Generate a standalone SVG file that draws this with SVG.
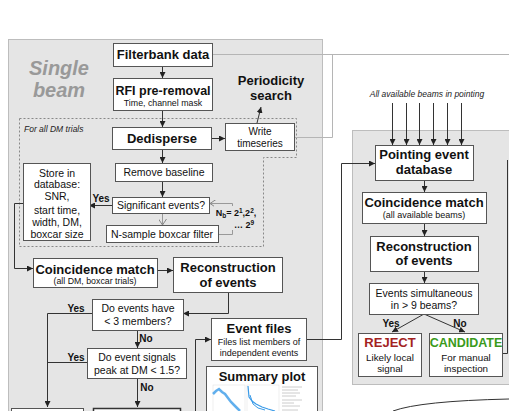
<svg xmlns="http://www.w3.org/2000/svg" width="509" height="411" viewBox="0 0 509 411">
<defs>
<style>
.panel{fill:#e5e5e5;stroke:#bdbdbd;stroke-width:1}
.box{fill:#fff;stroke:#555;stroke-width:1}
.t{font-family:"Liberation Sans",Arial,sans-serif;fill:#111;text-anchor:middle}
.b{font-weight:bold}
.c{stroke:#333;stroke-width:1;fill:none}
.lg{stroke:#b5b5b5;stroke-width:1;fill:none}
.gl{stroke:#999;stroke-width:1;fill:none}
</style>
<marker id="ar" viewBox="0 0 6 6" refX="6" refY="3" markerWidth="6" markerHeight="6" orient="auto" markerUnits="userSpaceOnUse">
<path d="M0,0 L6,3 L0,6 z" fill="#222"/>
</marker>
<marker id="ao" viewBox="0 0 6 8" refX="6" refY="4" markerWidth="6" markerHeight="8" orient="auto" markerUnits="userSpaceOnUse">
<path d="M0,0 L6,4 L0,8" fill="none" stroke="#888" stroke-width="1"/>
</marker>
</defs>
<rect width="509" height="411" fill="#fff"/>

<g id="panels">
<rect class="panel" x="8.5" y="39.5" width="314" height="380"/>
<rect class="panel" x="352.5" y="130.5" width="170" height="254"/>
<polygon points="19.5,118.5 296.5,118.5 296.5,157.5 263.5,157.5 263.5,246.5 19.5,246.5" fill="none" stroke="#888" stroke-width="1" stroke-dasharray="2,2"/>
<text x="59" y="75" style="font-family:'Liberation Sans',Arial,sans-serif;font-size:20px;font-weight:bold;font-style:italic;fill:#999;text-anchor:middle">Single</text>
<text x="59" y="97" style="font-family:'Liberation Sans',Arial,sans-serif;font-size:20px;font-weight:bold;font-style:italic;fill:#999;text-anchor:middle">beam</text>
<text x="24" y="132" style="font-family:'Liberation Sans',Arial,sans-serif;font-size:8.5px;font-style:italic;fill:#222">For all DM trials</text>
<text x="427" y="97" style="font-family:'Liberation Sans',Arial,sans-serif;font-size:8.5px;font-style:italic;fill:#222;text-anchor:middle">All available beams in pointing</text>
</g>

<g id="connectors">
<path class="lg" d="M213,54.5 H509"/>
<path class="lg" d="M294,137.5 H332.5 V54.5"/>
<path class="c" d="M162.5,66 V78" marker-end="url(#ar)"/>
<path class="c" d="M162.5,110 V127" marker-end="url(#ar)"/>
<path class="c" d="M211,138.5 H225" marker-end="url(#ar)"/>
<path class="c" d="M257,123 L261,107" marker-end="url(#ar)"/>
<path class="c" d="M162.5,150 V163" marker-end="url(#ar)"/>
<path class="c" d="M162.5,181 V197" marker-end="url(#ar)"/>
<path class="c" d="M112,205.5 H89" marker-end="url(#ar)"/>
<path class="gl" d="M162.5,213 V225" marker-end="url(#ao)"/>
<path class="gl" d="M218,234.5 H232.5 V203.5 H210" marker-end="url(#ao)"/>
<path class="c" d="M23,203.5 H14.5 V268.5 H33" marker-end="url(#ar)"/>
<path class="c" d="M157,270.5 H173" marker-end="url(#ar)"/>
<path class="c" d="M228.5,292 V313.5 H183" marker-end="url(#ar)"/>
<path class="c" d="M92,313.5 H47.5 V407" marker-end="url(#ar)"/>
<path class="c" d="M87,362.5 H47.5"/>
<path class="c" d="M137.5,330 V348" marker-end="url(#ar)"/>
<path class="c" d="M137.5,378 V407" marker-end="url(#ar)"/>
<path class="c" d="M195.5,411 V339.5 H211" marker-end="url(#ar)"/>
<path class="c" d="M306,339.5 H341.5 V163.5 H375" marker-end="url(#ar)"/>
<path class="c" d="M392.5,103 V145" marker-end="url(#ar)"/>
<path class="c" d="M406.5,103 V145" marker-end="url(#ar)"/>
<path class="c" d="M419.5,103 V145" marker-end="url(#ar)"/>
<path class="c" d="M433.5,103 V145" marker-end="url(#ar)"/>
<path class="c" d="M447.5,103 V145" marker-end="url(#ar)"/>
<path class="c" d="M461.5,103 V145" marker-end="url(#ar)"/>
<path class="c" d="M424.5,180 V192" marker-end="url(#ar)"/>
<path class="c" d="M424.5,223 V236" marker-end="url(#ar)"/>
<path class="c" d="M424.5,271 V283" marker-end="url(#ar)"/>
<path class="c" d="M424,314 L392,332" marker-end="url(#ar)"/>
<path class="c" d="M424,314 L465,332" marker-end="url(#ar)"/>
<path class="c" d="M502,353.5 H507.5 V160"/>
<path d="M393,411 Q420,401 509,399" fill="none" stroke="#333" stroke-width="1"/>
<rect x="214" y="206" width="44" height="24" fill="#e5e5e5"/>
<text class="t b" x="236" y="216" style="font-size:9px">N<tspan style="font-size:6.5px" dy="2">b</tspan><tspan dy="-2">= 2</tspan><tspan style="font-size:6.5px" dy="-3">1</tspan><tspan dy="3">,2</tspan><tspan style="font-size:6.5px" dy="-3">2</tspan><tspan dy="3">,</tspan></text>
<text class="t b" x="244" y="228" style="font-size:9px">… 2<tspan style="font-size:6.5px" dy="-3">9</tspan></text>
<text class="t b" x="101" y="202" style="font-size:10px">Yes</text>
<text class="t b" x="76" y="312" style="font-size:10px">Yes</text>
<text class="t b" x="146" y="342" style="font-size:10px">No</text>
<text class="t b" x="76" y="361" style="font-size:10px">Yes</text>
<text class="t b" x="147" y="391" style="font-size:10px">No</text>
<text class="t b" x="391" y="327" style="font-size:10px">Yes</text>
<text class="t b" x="460" y="327" style="font-size:10px">No</text>
</g>

<g id="filterbank"><rect class="box" x="113.5" y="43.5" width="99" height="23"/><text class="t b" x="163" y="59" style="font-size:13px">Filterbank data</text></g>
<g id="rfi"><rect class="box" x="113.5" y="78.5" width="99" height="32"/><text class="t b" x="163" y="95" style="font-size:12.5px">RFI pre-removal</text><text class="t" x="163" y="106" style="font-size:8.8px">Time, channel mask</text></g>
<g id="periodicity"><text class="t b" x="271" y="85" style="font-size:13px">Periodicity</text><text class="t b" x="271" y="100" style="font-size:13px">search</text></g>
<g id="dedisperse"><rect class="box" x="112.5" y="127.5" width="99" height="22"/><text class="t b" x="162" y="143" style="font-size:13px">Dedisperse</text></g>
<g id="write"><rect class="box" x="225.5" y="123.5" width="69" height="27"/><text class="t" x="260" y="135" style="font-size:10px">Write</text><text class="t" x="260" y="147" style="font-size:10px">timeseries</text></g>
<g id="baseline"><rect class="box" x="115.5" y="163.5" width="97" height="18"/><text class="t" x="164" y="176" style="font-size:10.5px">Remove baseline</text></g>
<g id="significant"><rect class="box" x="112.5" y="197.5" width="97" height="16"/><text class="t" x="161" y="209" style="font-size:10.5px">Significant events?</text></g>
<g id="boxcar"><rect class="box" x="106.5" y="225.5" width="112" height="17"/><text class="t" x="162" y="238" style="font-size:10.5px">N-sample boxcar filter</text></g>
<g id="store"><rect class="box" x="23.5" y="163.5" width="67" height="77"/>
<text class="t" x="57" y="177" style="font-size:10.5px">Store in</text>
<text class="t" x="57" y="188" style="font-size:10.5px">database:</text>
<text class="t" x="57" y="200" style="font-size:10.5px">SNR,</text>
<text class="t" x="57" y="214" style="font-size:10.5px">start time,</text>
<text class="t" x="57" y="226" style="font-size:10.5px">width, DM,</text>
<text class="t" x="57" y="238" style="font-size:10.5px">boxcar size</text></g>
<g id="coinc1"><rect class="box" x="33.5" y="258.5" width="124" height="29"/><text class="t b" x="95" y="274" style="font-size:13px">Coincidence match</text><text class="t" x="95" y="284" style="font-size:8.8px">(all DM, boxcar trials)</text></g>
<g id="recon1"><rect class="box" x="173.5" y="257.5" width="109" height="35"/><text class="t b" x="228" y="272" style="font-size:13px">Reconstruction</text><text class="t b" x="228" y="287" style="font-size:13px">of events</text></g>
<g id="fewmembers"><rect class="box" x="92.5" y="299.5" width="91" height="31"/><text class="t" x="138" y="312" style="font-size:10.5px">Do events have</text><text class="t" x="138" y="325" style="font-size:10.5px">&lt; 3 members?</text></g>
<g id="peakdm"><rect class="box" x="87.5" y="348.5" width="99" height="30"/><text class="t" x="137" y="361" style="font-size:10.5px">Do event signals</text><text class="t" x="137" y="374" style="font-size:10.5px">peak at DM &lt; 1.5?</text></g>
<g id="bottomleft"><rect class="box" x="11.5" y="408.5" width="72" height="20"/></g>
<g id="bottommid"><rect x="93.5" y="408.5" width="87" height="20" fill="#fff" stroke="#333" stroke-width="1.5"/></g>
<g id="eventfiles"><rect class="box" x="211.5" y="318.5" width="95" height="42"/><text class="t b" x="259" y="333" style="font-size:13px">Event files</text><text class="t" x="259" y="345" style="font-size:9px">Files list members of</text><text class="t" x="259" y="356" style="font-size:9px">independent events</text></g>
<g id="summary"><rect class="box" x="206.5" y="366.5" width="111" height="60" stroke="#888"/><text class="t b" x="262" y="381" style="font-size:13px">Summary plot</text>
<rect x="213" y="385" width="32" height="30" fill="none" stroke="#ddd" stroke-width="0.5"/>
<rect x="247" y="385" width="32" height="30" fill="none" stroke="#ddd" stroke-width="0.5"/>
<polyline points="213,394 216,391 219,389 222,392 225,394 228,398 231,402 234,405 237,408 240,411" fill="none" stroke="#3a9be8" stroke-width="2.5" stroke-opacity="0.8"/>
<polyline points="248,386 249,397 252,401 256,404 262,407 268,409 275,411" fill="none" stroke="#3a9be8" stroke-width="1.2"/>
<polyline points="250,395 253,404 258,408 265,410" fill="none" stroke="#3a9be8" stroke-width="1"/>
<g stroke="#ccc" stroke-width="1"><path d="M282,387h20M282,390h16M282,393h18M282,396h14M282,400h20M282,403h12M282,406h18M282,410h16"/></g></g>
<g id="pointingdb"><rect class="box" x="375.5" y="145.5" width="98" height="35"/><text class="t b" x="424" y="159" style="font-size:13px">Pointing event</text><text class="t b" x="424" y="174" style="font-size:13px">database</text></g>
<g id="coinc2"><rect class="box" x="362.5" y="192.5" width="124" height="31"/><text class="t b" x="424" y="207" style="font-size:13px">Coincidence match</text><text class="t" x="424" y="218" style="font-size:9px">(all available beams)</text></g>
<g id="recon2"><rect class="box" x="370.5" y="236.5" width="108" height="35"/><text class="t b" x="424" y="251" style="font-size:13px">Reconstruction</text><text class="t b" x="424" y="265" style="font-size:13px">of events</text></g>
<g id="simult"><rect class="box" x="369.5" y="283.5" width="109" height="31"/><text class="t" x="424" y="297" style="font-size:10.5px">Events simultaneous</text><text class="t" x="424" y="309" style="font-size:10.5px">in &gt; 9 beams?</text></g>
<g id="reject"><rect class="box" x="358.5" y="333.5" width="63" height="43"/><text class="t b" x="390" y="347" style="font-size:13px;fill:#a3231f">REJECT</text><text class="t" x="390" y="361" style="font-size:9.8px">Likely local</text><text class="t" x="390" y="372" style="font-size:9.8px">signal</text></g>
<g id="candidate"><rect class="box" x="429.5" y="333.5" width="73" height="43"/><text class="t b" x="466" y="347" style="font-size:12.5px;fill:#3a9a1c">CANDIDATE</text><text class="t" x="466" y="361" style="font-size:9.8px">For manual</text><text class="t" x="466" y="372" style="font-size:9.8px">inspection</text></g>
</svg>
